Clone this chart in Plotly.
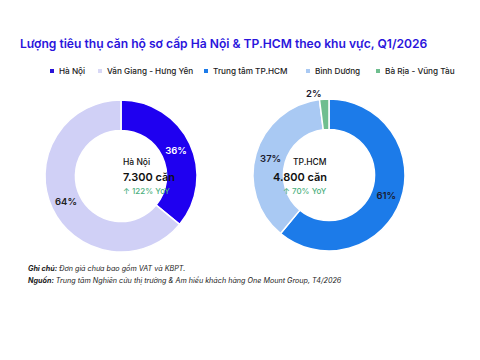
import plotly.graph_objects as go

hn_labels = ["Hà Nội", "Văn Giang - Hưng Yên"]
hn_values = [36, 64]
hcm_labels = ["Trung tâm TP.HCM", "Bình Dương", "Bà Rịa - Vũng Tàu"]
hcm_values = [61, 37, 2]

hn_colors = ["#1f00f0", "#d0d0f6"]
hcm_colors = ["#1c7be9", "#a9c9f3", "#6fbe8f"]

legend_labels = hn_labels + hcm_labels
legend_colors = ["#2a14d8", "#d8d8f6", "#1c7be9", "#a9c9f3", "#6fbe8f"]
legend_x = [57, 105, 211, 313, 383]

FONT = "Inter"
W, H = 480, 360

def px(x):
    return x / W

def py(y):
    return 1 - y / H

fig = go.Figure()
fig.add_trace(go.Pie(
    labels=hn_labels, values=hn_values, hole=0.6, sort=False, direction="clockwise",
    rotation=0, marker=dict(colors=hn_colors, line=dict(color="white", width=1.5)),
    texttemplate="%{value}%", textposition="inside", insidetextorientation="horizontal",
    textfont=dict(color=["white", "#222222"], size=9.5, family=FONT, weight=600),
    domain=dict(x=[px(45), px(197)], y=[py(252), py(100)]),
    hoverinfo="label+percent",
))
fig.add_trace(go.Pie(
    labels=hcm_labels, values=hcm_values, hole=0.6, sort=False, direction="clockwise",
    rotation=0, marker=dict(colors=hcm_colors, line=dict(color="white", width=1.5)),
    texttemplate="%{value}%", textposition=["inside", "inside", "outside"],
    insidetextorientation="horizontal",
    textfont=dict(color="#1a1a2e", size=9.5, family=FONT, weight=600),
    domain=dict(x=[px(253), px(405)], y=[py(251), py(99)]),
    hoverinfo="label+percent",
))

centers = [
    (121, "Hà Nội", "7.300 căn", "↑ 122% YoY"),
    (329, "TP.HCM", "4.800 căn", "↑ 70% YoY"),
]
anns = []
for cx, name, val, yoy in centers:
    anns.append(dict(x=px(cx), y=py(162), text=name, showarrow=False, xref="paper", yref="paper",
                     yanchor="middle", font=dict(size=8.5, color="#111111", family=FONT, weight=500)))
    anns.append(dict(x=px(cx), y=py(177), text=val, showarrow=False, xref="paper", yref="paper",
                     yanchor="middle", font=dict(size=11, color="#111111", family=FONT, weight=600)))
    anns.append(dict(x=px(cx), y=py(191), text=yoy, showarrow=False, xref="paper", yref="paper",
                     yanchor="middle", font=dict(size=8, color="#4caf7d", family=FONT, weight=500)))

anns.append(dict(x=px(18), y=py(43), xanchor="left", yanchor="middle",
                 text="Lượng tiêu thụ căn hộ sơ cấp Hà Nội & TP.HCM theo khu vực, Q1/2026",
                 showarrow=False, xref="paper", yref="paper",
                 font=dict(size=12.1, color="#2a14dc", family=FONT, weight=600)))
anns.append(dict(x=px(26), y=py(268), xanchor="left", yanchor="middle",
                 text="<b><i>Ghi chú:</i></b><i> Đơn giá chưa bao gồm VAT và KBPT.</i>",
                 showarrow=False, xref="paper", yref="paper",
                 font=dict(size=7.2, color="#222222", family=FONT)))
anns.append(dict(x=px(26), y=py(280), xanchor="left", yanchor="middle",
                 text="<b><i>Nguồn:</i></b><i> Trung tâm Nghiên cứu thị trường & Am hiểu khách hàng One Mount Group, T4/2026</i>",
                 showarrow=False, xref="paper", yref="paper",
                 font=dict(size=7.2, color="#222222", family=FONT)))

shapes = []
for lab, col, lx in zip(legend_labels, legend_colors, legend_x):
    anns.append(dict(x=px(lx), y=py(71), xanchor="left", yanchor="middle", text=lab,
                     showarrow=False, xref="paper", yref="paper",
                     font=dict(size=8.2, color="#222222", family=FONT, weight=500)))
    shapes.append(dict(type="rect", xref="paper", yref="paper",
                       x0=px(lx - 7), x1=px(lx - 3), y0=py(73), y1=py(69),
                       fillcolor=col, line=dict(width=0)))

fig.update_layout(
    width=W, height=H, margin=dict(l=0, r=0, t=0, b=0),
    paper_bgcolor="white", plot_bgcolor="white",
    annotations=anns, shapes=shapes,
    showlegend=False,
)
fig.write_html("out.html", config={"displayModeBar": False},
               post_script="document.body.style.margin='0';")
